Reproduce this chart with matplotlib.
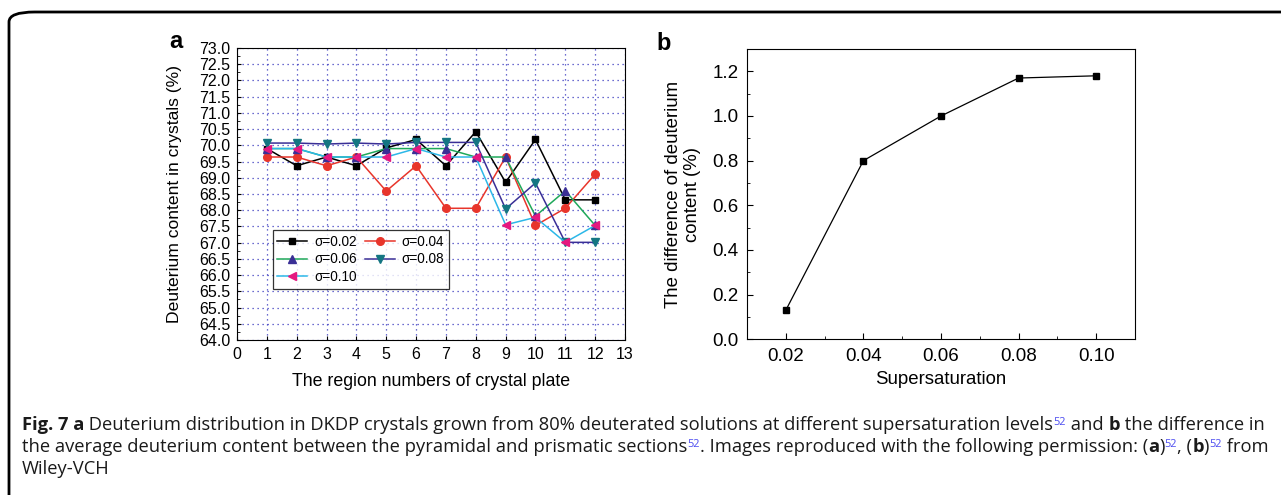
import matplotlib
matplotlib.use("Agg")
import matplotlib.pyplot as plt
from matplotlib.patches import FancyBboxPatch
from matplotlib.ticker import MultipleLocator, FormatStrFormatter

# panel a data: deuterium content (%) per region, for each supersaturation
regions = list(range(1, 13))
d_002 = [69.90, 69.37, 69.64, 69.37, 69.92, 70.18, 69.37, 70.42, 68.86, 70.18, 68.32, 68.32]
d_004 = [69.64, 69.64, 69.37, 69.64, 68.59, 69.37, 68.06, 68.06, 69.64, 67.53, 68.06, 69.11]
d_006 = [69.90, 69.90, 69.64, 69.64, 69.90, 69.90, 69.90, 69.64, 69.64, 67.82, 68.60, 67.53]
d_008 = [70.07, 70.07, 70.04, 70.07, 70.04, 70.09, 70.09, 70.09, 68.04, 68.84, 67.01, 67.01]
d_010 = [69.90, 69.90, 69.64, 69.64, 69.64, 69.90, 69.64, 69.64, 67.55, 67.78, 67.01, 67.53]

# panel b data
sigma = [0.02, 0.04, 0.06, 0.08, 0.10]
diff = [0.13, 0.80, 1.00, 1.17, 1.18]

plt.rcParams['font.family'] = ['Liberation Sans', 'DejaVu Sans']

W, H = 1281, 495
fig = plt.figure(figsize=(W / 100, H / 100), dpi=100)

# outer frame (rounded corner, runs off the right and bottom edges)
frame = FancyBboxPatch((9 / W, -0.2), 1.2, 1 - 12 / H + 0.2,
                       boxstyle="round,pad=0,rounding_size=0.02",
                       transform=fig.transFigure, fill=False, lw=2, ec='black')
fig.patches.append(frame)

# ---- panel a ----
ax = fig.add_axes([237 / W, 1 - 340 / H, 388 / W, 292 / H])
series = [
    (d_002, 'σ=0.02', 'black', 's', 'black', 5),
    (d_004, 'σ=0.04', '#e8352b', 'o', '#e8352b', 5.5),
    (d_006, 'σ=0.06', '#1fa85a', '^', '#3a2f96', 6),
    (d_008, 'σ=0.08', '#3a2f96', 'v', '#147682', 6),
    (d_010, 'σ=0.10', '#2cb8e8', '<', '#e5187f', 6),
]
lines = []
for vals, lab, lc, mk, mc, ms in series:
    ln, = ax.plot(regions, vals, color=lc, lw=1.1, marker=mk, ms=ms,
                  mfc=mc, mec=mc, label=lab)
    lines.append(ln)

ax.set_xlim(0, 13)
ax.set_ylim(64, 73)
ax.xaxis.set_major_locator(MultipleLocator(1))
ax.yaxis.set_major_locator(MultipleLocator(0.5))
ax.yaxis.set_minor_locator(MultipleLocator(0.25))
ax.yaxis.set_major_formatter(FormatStrFormatter('%.1f'))
ax.tick_params(direction='in', labelsize=11.5, pad=5, length=3)
ax.tick_params(which='minor', direction='in', length=2)
ax.grid(True, color='#3d3dc0', ls=(0, (1, 3)), lw=0.9)
ax.set_xlabel('The region numbers of crystal plate', fontsize=12.8, va='center')
ax.set_ylabel('Deuterium content in crystals (%)', fontsize=12.6, va='center')
ax.xaxis.set_label_coords(0.5, -0.142)
ax.yaxis.set_label_coords(-0.16, 0.5)

# legend filled row by row: 0.02 0.04 / 0.06 0.08 / 0.10
order = [0, 2, 4, 1, 3]
leg = ax.legend([lines[i] for i in order], [series[i][1] for i in order],
                ncol=2, loc='lower left', bbox_to_anchor=(0.092, 0.175),
                borderaxespad=0, fontsize=9.8, frameon=True, fancybox=False,
                edgecolor='black', handlelength=2.2, columnspacing=0.6,
                handletextpad=0.5, borderpad=0.35, labelspacing=0.28)
leg.get_frame().set_linewidth(0.9)
fig.text(176 / W, 1 - 42 / H, 'a', fontsize=17, fontweight='bold', va='center', ha='center')

# ---- panel b ----
bx = fig.add_axes([747 / W, 1 - 339.3 / H, 388 / W, 290.3 / H])
bx.plot(sigma, diff, color='black', lw=0.9, marker='s', ms=4.5)
bx.set_xlim(0.01, 0.11)
bx.set_ylim(0, 1.3)
bx.set_xticks(sigma)
bx.xaxis.set_major_formatter(FormatStrFormatter('%.2f'))
bx.xaxis.set_minor_locator(MultipleLocator(0.01))
bx.yaxis.set_major_locator(MultipleLocator(0.2))
bx.yaxis.set_minor_locator(MultipleLocator(0.1))
bx.yaxis.set_major_formatter(FormatStrFormatter('%.1f'))
bx.tick_params(direction='in', labelsize=13.5, length=4, pad=6)
bx.tick_params(which='minor', direction='in', length=2)
bx.set_xlabel('Supersaturation', fontsize=13.4, va='center')
bx.set_ylabel('The difference of deuterium\ncontent (%)', fontsize=13.4, va='center')
bx.xaxis.set_label_coords(0.5, -0.14)
bx.yaxis.set_label_coords(-0.165, 0.5)
fig.text(664 / W, 1 - 43 / H, 'b', fontsize=17, fontweight='bold', va='center', ha='center')

# ---- caption ----
cap_lines = [
    [("Fig. 7 a", 'b'), (" Deuterium distribution in DKDP crystals grown from 80% deuterated solutions at different supersaturation levels", 'n'),
     ("52", 's'), (" and ", 'n'), ("b", 'b'), (" the difference in", 'n')],
    [("the average deuterium content between the pyramidal and prismatic sections", 'n'), ("52", 's'),
     (". Images reproduced with the following permission: (", 'n'), ("a", 'b'), (")", 'n'), ("52", 's'),
     (", (", 'n'), ("b", 'b'), (")", 'n'), ("52", 's'), (" from", 'n')],
    [("Wiley-VCH", 'n')],
]
cap_base = [430, 452, 473.5]
cap_fs = 13.2
fig.canvas.draw()
renderer = fig.canvas.get_renderer()
for segs, ypx in zip(cap_lines, cap_base):
    xpx = 22
    for txt, st in segs:
        kw = dict(fontsize=cap_fs, family=['Open Sans', 'DejaVu Sans'],
                  va='baseline', ha='left', color='#1a1a1a')
        yy = ypx
        if st == 'b':
            kw['fontweight'] = 'bold'
        if st == 's':
            kw['fontsize'] = cap_fs * 0.6
            kw['color'] = '#4b4bf0'
            yy = ypx - 5
        t = fig.text(xpx / W, 1 - yy / H, txt, **kw)
        bb = t.get_window_extent(renderer)
        xpx += bb.width

fig.savefig('out.png', dpi=100)
